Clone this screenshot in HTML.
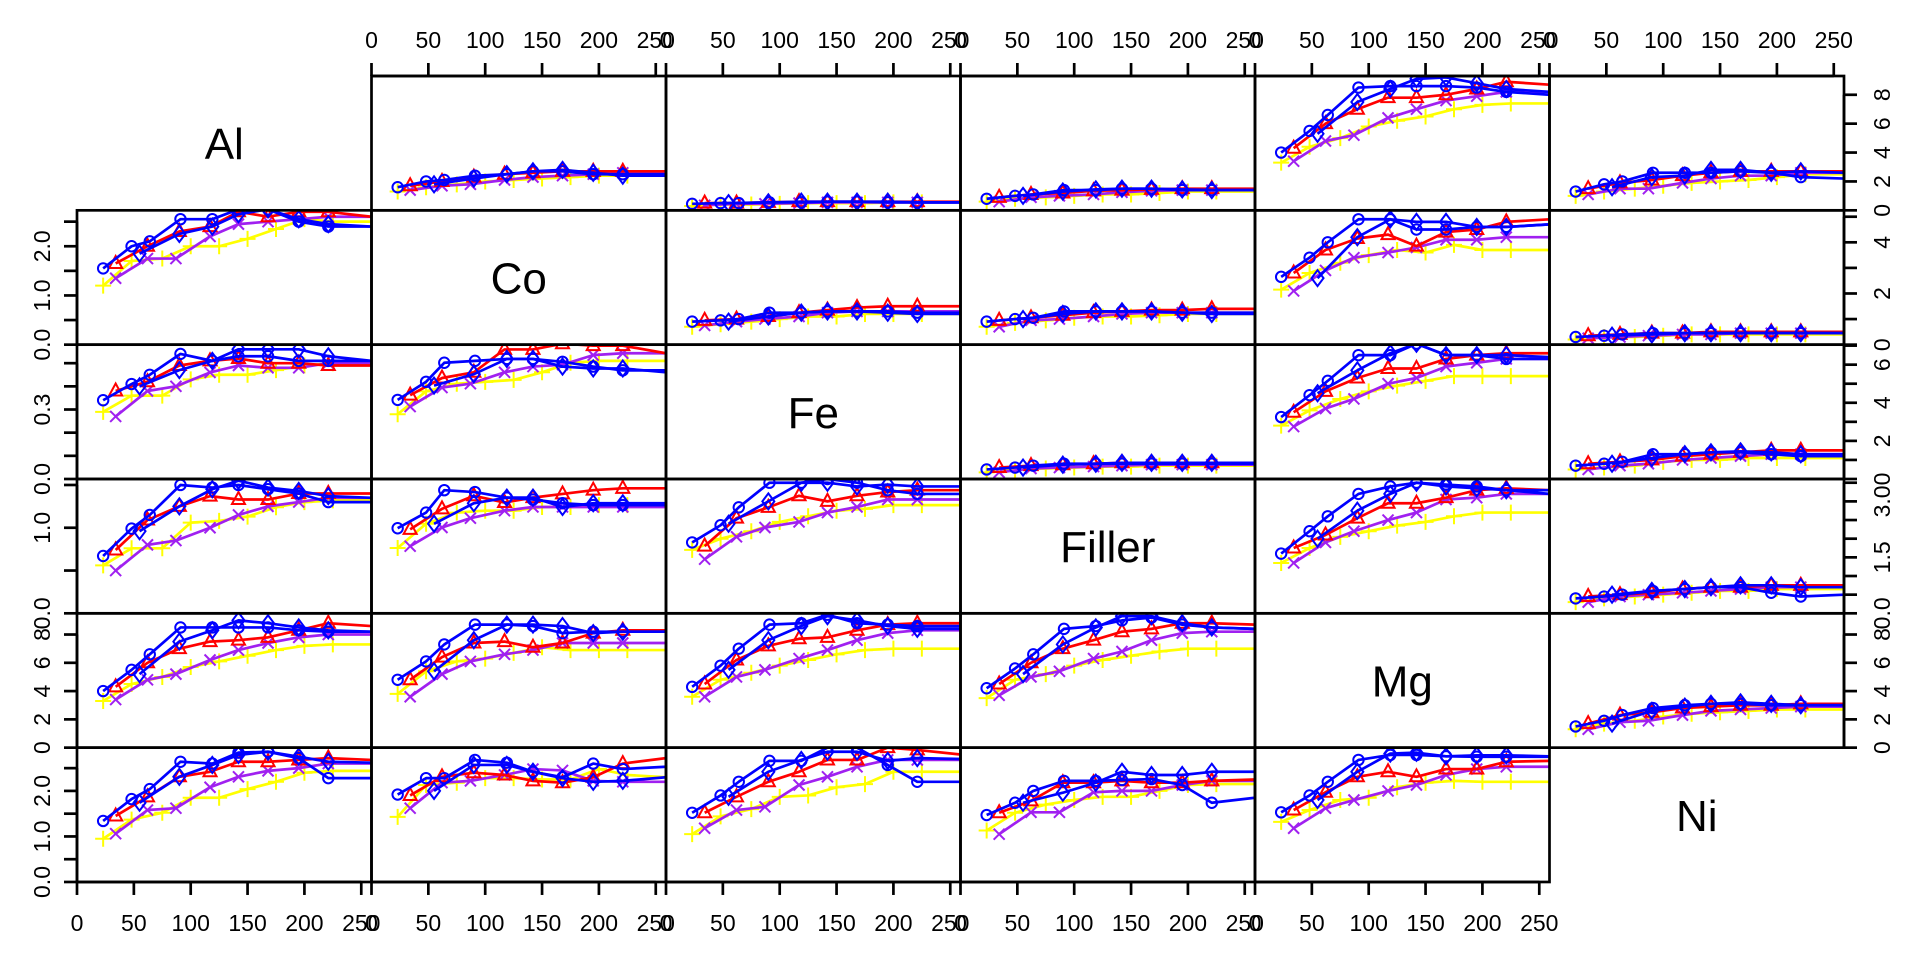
<!DOCTYPE html>
<html><head><meta charset="utf-8"><title>Pairs panel chart</title>
<style>
html,body{margin:0;padding:0;background:#fff;}
svg{display:block;font-family:"Liberation Sans",Arial,sans-serif;}
</style></head>
<body>
<svg id="chart" width="1920" height="960" viewBox="0 0 1920 960" xmlns="http://www.w3.org/2000/svg"></svg>
<script>
// ---- data ----
const varNames = ["Al","Co","Fe","Filler","Mg","Ni"];
const xTicks = [0,50,100,150,200,250];
const xTickLabels = ["0","50","100","150","200","250"];
const xCircle  = [23,48,64,91,119,142,168,195,221,259];
const xTri     = [34,62,90,117,142,168,195,221,259];
const xPlus    = [23,48,75,100,125,150,175,200,225,259];
const xCross   = [34,62,87,117,142,168,195,221,259];
const xDiamond = [55,90,119,142,168,195,221,259];
// per-row y-limits: [col1 scale, other cols scale]
const rowYmaxLeft  = [9.3, 2.73, 0.58, 1.57, 9.5, 2.95];
const rowYmaxOther = [9.3, 5.25, 7.05, 3.6, 9.5, 2.95];
// axis ticks
const leftTicks = {1:[0,0.5,1,1.5,2,2.5],2:[0,0.1,0.2,0.3,0.4,0.5],3:[0,0.5,1,1.5],4:[0,2,4,6,8],5:[0,0.5,1,1.5,2,2.5]};
const leftLabels = {1:[[0,"0.0"],[1,"1.0"],[2,"2.0"]],2:[[0,"0.0"],[0.3,"0.3"]],3:[[0,"0.0"],[1,"1.0"]],4:[[0,"0"],[2,"2"],[4,"4"],[6,"6"],[8,"8"]],5:[[0,"0.0"],[1,"1.0"],[2,"2.0"]]};
const rightTicks = {0:[0,2,4,6,8],1:[0,1,2,3,4,5],2:[0,1,2,3,4,5,6,7],3:[0,0.5,1,1.5,2,2.5,3,3.5],4:[0,2,4,6,8]};
const rightLabels = {0:[[0,"0"],[2,"2"],[4,"4"],[6,"6"],[8,"8"]],1:[[0,"0"],[2,"2"],[4,"4"]],2:[[0,"0"],[2,"2"],[4,"4"],[6,"6"]],3:[[0,"0.0"],[1.5,"1.5"],[3,"3.0"]],4:[[0,"0"],[2,"2"],[4,"4"],[6,"6"],[8,"8"]]};

// series values per panel "row,col" (1-based); last value = level at right edge
const circleVals = {
"1,2":[1.6,2.0,2.1,2.4,2.5,2.7,2.7,2.5,2.5,2.5],
"1,3":[0.45,0.5,0.5,0.55,0.55,0.6,0.6,0.55,0.55,0.55],
"1,4":[0.8,1.0,1.1,1.4,1.4,1.5,1.5,1.4,1.4,1.4],
"1,5":[4.0,5.5,6.6,8.5,8.6,8.6,8.6,8.5,8.2,8.0],
"1,6":[1.3,1.8,2.0,2.6,2.6,2.6,2.7,2.6,2.3,2.2],
"2,1":[1.55,2.0,2.1,2.55,2.55,2.75,2.75,2.5,2.4,2.4],
"2,3":[0.9,0.95,1.0,1.25,1.25,1.3,1.3,1.3,1.25,1.25],
"2,4":[0.9,1.0,1.05,1.3,1.3,1.3,1.3,1.25,1.25,1.25],
"2,5":[2.65,3.4,4.0,4.9,4.9,4.5,4.5,4.6,4.6,4.7],
"2,6":[0.3,0.35,0.4,0.45,0.45,0.45,0.45,0.45,0.45,0.45],
"3,1":[0.34,0.41,0.45,0.54,0.51,0.53,0.53,0.51,0.51,0.51],
"3,2":[4.15,5.1,6.1,6.2,6.3,6.3,6.15,5.9,5.7,5.7],
"3,4":[0.5,0.6,0.7,0.8,0.8,0.8,0.8,0.8,0.8,0.8],
"3,5":[3.25,4.4,5.15,6.5,6.5,7.1,6.5,6.5,6.3,6.3],
"3,6":[0.7,0.8,0.9,1.3,1.3,1.4,1.4,1.3,1.2,1.2],
"4,1":[0.67,0.99,1.15,1.5,1.47,1.5,1.45,1.4,1.3,1.3],
"4,2":[2.28,2.7,3.3,3.25,3.1,3.05,2.95,2.9,2.9,2.9],
"4,3":[1.9,2.36,2.84,3.5,3.5,3.6,3.5,3.3,3.2,3.2],
"4,5":[1.6,2.2,2.6,3.2,3.4,3.5,3.45,3.4,3.3,3.2],
"4,6":[0.4,0.45,0.5,0.6,0.65,0.7,0.7,0.55,0.45,0.5],
"5,1":[4.0,5.5,6.6,8.5,8.5,8.5,8.5,8.3,8.2,8.2],
"5,2":[4.8,6.1,7.3,8.7,8.7,8.6,8.1,8.2,8.2,8.2],
"5,3":[4.3,5.8,7.0,8.7,8.8,9.4,8.8,8.7,8.6,8.6],
"5,4":[4.2,5.6,6.6,8.4,8.6,9.0,9.2,8.7,8.5,8.4],
"5,6":[1.5,1.9,2.3,2.8,3.0,3.1,3.1,3.0,3.0,3.0],
"6,1":[1.34,1.82,2.04,2.64,2.6,2.84,2.86,2.72,2.28,2.28],
"6,2":[1.92,2.28,2.28,2.68,2.62,2.42,2.3,2.6,2.48,2.53],
"6,3":[1.52,1.9,2.2,2.66,2.66,2.95,2.95,2.57,2.2,2.2],
"6,4":[1.47,1.74,2.0,2.22,2.22,2.24,2.26,2.13,1.74,1.85],
"6,5":[1.53,1.9,2.2,2.68,2.79,2.79,2.76,2.75,2.75,2.75]
};
const triVals = {
"1,2":[1.7,2.0,2.3,2.5,2.6,2.7,2.7,2.7,2.7],
"1,3":[0.5,0.5,0.55,0.6,0.6,0.6,0.6,0.6,0.6],
"1,4":[0.9,1.1,1.2,1.35,1.4,1.45,1.5,1.5,1.5],
"1,5":[4.3,6.0,7.0,7.8,7.8,8.0,8.4,8.9,8.7],
"1,6":[1.5,1.9,2.1,2.4,2.6,2.7,2.7,2.7,2.7],
"2,1":[1.65,2.0,2.3,2.4,2.7,2.6,2.7,2.7,2.6],
"2,3":[0.95,1.0,1.1,1.25,1.35,1.45,1.5,1.5,1.5],
"2,4":[0.95,1.05,1.15,1.25,1.3,1.35,1.35,1.4,1.4],
"2,5":[2.8,3.7,4.15,4.3,3.85,4.4,4.5,4.8,4.9],
"2,6":[0.35,0.4,0.45,0.45,0.5,0.5,0.5,0.5,0.5],
"3,1":[0.38,0.42,0.49,0.51,0.52,0.5,0.5,0.49,0.49],
"3,2":[4.4,5.3,5.6,6.8,6.8,7.1,7.0,7.0,6.6],
"3,4":[0.6,0.7,0.75,0.8,0.85,0.85,0.85,0.85,0.85],
"3,5":[3.5,4.6,5.3,5.8,5.8,6.3,6.5,6.6,6.6],
"3,6":[0.8,0.9,1.0,1.2,1.3,1.4,1.5,1.5,1.5],
"4,1":[0.74,1.09,1.25,1.37,1.33,1.33,1.4,1.4,1.4],
"4,2":[2.25,2.8,3.15,2.97,3.1,3.2,3.3,3.35,3.35],
"4,3":[1.8,2.55,2.84,3.15,3.0,3.15,3.25,3.3,3.3],
"4,5":[1.75,2.1,2.55,2.95,2.95,3.1,3.3,3.35,3.3],
"4,6":[0.45,0.5,0.55,0.65,0.7,0.7,0.75,0.75,0.75],
"5,1":[4.3,6.0,7.0,7.5,7.6,7.8,8.3,8.8,8.6],
"5,2":[4.8,6.4,7.4,7.5,7.1,7.4,8.1,8.3,8.3],
"5,3":[4.5,6.2,7.2,7.7,7.8,8.3,8.7,8.8,8.8],
"5,4":[4.5,6.0,7.0,7.6,8.2,8.4,8.8,8.8,8.7],
"5,6":[1.7,2.3,2.5,2.8,2.9,3.0,3.0,3.1,3.1],
"6,1":[1.45,1.87,2.31,2.42,2.64,2.64,2.68,2.72,2.68],
"6,2":[1.9,2.31,2.4,2.35,2.22,2.18,2.3,2.6,2.72],
"6,3":[1.52,1.87,2.2,2.42,2.68,2.68,2.95,2.9,2.8],
"6,4":[1.52,1.78,2.18,2.18,2.22,2.18,2.18,2.22,2.25],
"6,5":[1.58,1.97,2.31,2.42,2.31,2.48,2.48,2.64,2.66]
};
const plusVals = {
"1,2":[1.3,1.6,1.8,2.0,2.1,2.2,2.3,2.4,2.4,2.4],
"1,3":[0.3,0.4,0.4,0.45,0.5,0.5,0.5,0.55,0.55,0.55],
"1,4":[0.6,0.8,0.9,1.0,1.1,1.1,1.2,1.3,1.3,1.3],
"1,5":[3.3,4.4,5.0,5.8,6.2,6.5,7.0,7.3,7.4,7.4],
"1,6":[1.0,1.3,1.5,1.7,1.9,2.0,2.1,2.3,2.5,2.5],
"2,1":[1.2,1.7,1.75,2.0,2.0,2.15,2.35,2.55,2.5,2.5],
"2,3":[0.7,0.8,0.9,1.0,1.1,1.1,1.2,1.2,1.2,1.2],
"2,4":[0.7,0.85,0.95,1.05,1.1,1.1,1.15,1.2,1.2,1.2],
"2,5":[2.15,2.8,3.2,3.5,3.7,3.6,3.9,3.7,3.7,3.7],
"2,6":[0.2,0.3,0.3,0.35,0.4,0.4,0.4,0.4,0.4,0.4],
"3,1":[0.29,0.36,0.36,0.43,0.45,0.45,0.47,0.49,0.5,0.5],
"3,2":[3.4,4.6,5.0,5.1,5.2,5.6,6.1,6.2,6.2,6.2],
"3,4":[0.35,0.5,0.55,0.6,0.65,0.65,0.7,0.7,0.7,0.7],
"3,5":[2.8,3.6,4.2,4.6,4.9,5.15,5.4,5.4,5.4,5.4],
"3,6":[0.5,0.6,0.7,0.9,1.0,1.0,1.1,1.1,1.1,1.1],
"4,1":[0.56,0.76,0.76,1.06,1.08,1.13,1.24,1.3,1.32,1.32],
"4,2":[1.75,2.4,2.7,2.75,2.75,2.85,2.85,2.9,2.9,2.9],
"4,3":[1.7,2.0,2.2,2.45,2.6,2.75,2.8,2.9,2.9,2.9],
"4,5":[1.35,1.75,2.05,2.2,2.35,2.45,2.6,2.7,2.7,2.7],
"4,6":[0.3,0.4,0.45,0.5,0.55,0.6,0.6,0.65,0.65,0.65],
"5,1":[3.3,4.5,5.0,5.7,6.1,6.5,6.9,7.2,7.3,7.3],
"5,2":[3.8,5.4,6.1,6.3,6.7,7.1,6.9,6.9,6.9,6.9],
"5,3":[3.6,4.8,5.3,5.8,6.2,6.6,6.9,7.0,7.0,7.0],
"5,4":[3.5,4.8,5.2,5.8,6.2,6.5,6.8,7.0,7.0,7.0],
"5,6":[1.3,1.7,1.9,2.2,2.4,2.5,2.6,2.7,2.7,2.7],
"6,1":[0.95,1.37,1.52,1.85,1.85,2.04,2.2,2.4,2.44,2.44],
"6,2":[1.43,2.13,2.18,2.28,2.28,2.25,2.25,2.48,2.35,2.3],
"6,3":[1.05,1.44,1.6,1.87,1.9,2.08,2.15,2.42,2.42,2.42],
"6,4":[1.13,1.52,1.7,1.8,1.87,1.87,2.0,2.13,2.15,2.15],
"6,5":[1.32,1.58,1.8,1.85,2.08,2.18,2.22,2.2,2.2,2.2]
};
const crossVals = {
"1,2":[1.4,1.7,1.8,2.1,2.3,2.4,2.5,2.6,2.6],
"1,3":[0.35,0.45,0.45,0.5,0.55,0.55,0.55,0.55,0.55],
"1,4":[0.6,0.9,1.0,1.1,1.25,1.35,1.4,1.4,1.4],
"1,5":[3.4,4.8,5.2,6.4,7.0,7.6,7.9,8.2,8.2],
"1,6":[1.1,1.5,1.5,1.9,2.2,2.4,2.4,2.6,2.6],
"2,1":[1.35,1.75,1.75,2.2,2.45,2.5,2.55,2.6,2.6],
"2,3":[0.75,0.9,1.0,1.1,1.25,1.3,1.3,1.3,1.3],
"2,4":[0.7,0.95,1.0,1.1,1.2,1.25,1.25,1.25,1.25],
"2,5":[2.1,2.9,3.4,3.6,3.8,4.1,4.1,4.2,4.2],
"2,6":[0.25,0.3,0.35,0.4,0.4,0.45,0.45,0.45,0.45],
"3,1":[0.27,0.38,0.4,0.46,0.49,0.48,0.48,0.5,0.5],
"3,2":[3.8,4.8,5.0,5.6,5.9,6.0,6.5,6.6,6.6],
"3,4":[0.35,0.55,0.6,0.65,0.7,0.75,0.75,0.75,0.75],
"3,5":[2.75,3.7,4.2,5.0,5.3,5.9,6.1,6.3,6.3],
"3,6":[0.5,0.7,0.8,1.0,1.1,1.2,1.3,1.3,1.3],
"4,1":[0.5,0.8,0.85,1.0,1.15,1.25,1.3,1.35,1.35],
"4,2":[1.8,2.3,2.55,2.75,2.85,2.85,2.85,2.85,2.85],
"4,3":[1.45,2.05,2.3,2.45,2.7,2.85,3.05,3.05,3.05],
"4,5":[1.35,1.9,2.2,2.5,2.7,3.05,3.1,3.2,3.2],
"4,6":[0.3,0.45,0.5,0.55,0.6,0.65,0.7,0.7,0.7],
"5,1":[3.4,4.8,5.2,6.2,6.9,7.4,7.8,8.0,8.0],
"5,2":[3.6,5.2,6.1,6.6,6.9,7.4,7.4,7.4,7.4],
"5,3":[3.6,5.0,5.5,6.3,6.9,7.6,8.1,8.3,8.3],
"5,4":[3.7,5.0,5.4,6.3,6.8,7.6,8.1,8.2,8.2],
"5,6":[1.3,1.8,1.9,2.3,2.6,2.7,2.8,2.9,2.9],
"6,1":[1.06,1.58,1.62,2.08,2.31,2.44,2.5,2.6,2.6],
"6,2":[1.62,2.18,2.22,2.35,2.48,2.45,2.22,2.2,2.2],
"6,3":[1.18,1.58,1.65,2.13,2.31,2.53,2.68,2.68,2.68],
"6,4":[1.05,1.53,1.53,1.97,2.0,2.0,2.13,2.22,2.22],
"6,5":[1.18,1.62,1.8,2.0,2.13,2.35,2.48,2.53,2.53]
};
const diamondVals = {
"1,2":[1.8,2.2,2.5,2.7,2.8,2.6,2.4,2.4],
"1,3":[0.5,0.55,0.6,0.6,0.6,0.6,0.55,0.55],
"1,4":[1.0,1.3,1.45,1.5,1.5,1.45,1.4,1.4],
"1,5":[5.3,7.5,8.4,9.1,9.2,8.8,8.4,8.2],
"1,6":[1.6,2.3,2.4,2.8,2.8,2.6,2.7,2.6],
"2,1":[1.85,2.25,2.4,2.65,2.75,2.55,2.45,2.4],
"2,3":[0.9,1.1,1.25,1.3,1.3,1.25,1.2,1.2],
"2,4":[1.0,1.2,1.3,1.3,1.3,1.25,1.2,1.2],
"2,5":[2.6,4.2,4.9,4.8,4.8,4.6,4.6,4.7],
"2,6":[0.35,0.4,0.45,0.45,0.45,0.45,0.45,0.45],
"3,1":[0.4,0.47,0.51,0.56,0.56,0.56,0.53,0.51],
"3,2":[4.9,5.5,6.3,6.3,5.9,5.8,5.8,5.6],
"3,4":[0.6,0.75,0.8,0.85,0.85,0.85,0.85,0.85],
"3,5":[4.5,5.7,6.6,7.1,6.5,6.5,6.5,6.4],
"3,6":[0.8,1.1,1.3,1.4,1.45,1.4,1.3,1.3],
"4,1":[0.96,1.25,1.45,1.55,1.47,1.43,1.37,1.35],
"4,2":[2.4,2.95,3.1,3.1,2.85,2.95,2.95,2.95],
"4,3":[2.4,3.0,3.5,3.5,3.4,3.45,3.4,3.4],
"4,5":[2.0,2.75,3.2,3.5,3.4,3.35,3.3,3.3],
"4,6":[0.5,0.6,0.65,0.7,0.75,0.75,0.7,0.7],
"5,1":[5.2,7.5,8.3,9.0,8.8,8.5,8.3,8.2],
"5,2":[5.4,7.6,8.7,8.7,8.6,8.1,8.2,8.2],
"5,3":[5.5,7.6,8.6,9.3,9.0,8.6,8.4,8.4],
"5,4":[5.2,7.3,8.5,9.3,9.3,8.8,8.5,8.4],
"5,6":[1.7,2.6,2.9,3.1,3.2,3.1,3.0,3.0],
"6,1":[1.74,2.31,2.57,2.79,2.86,2.75,2.64,2.62],
"6,2":[2.0,2.57,2.57,2.42,2.28,2.2,2.22,2.3],
"6,3":[1.87,2.42,2.68,2.86,2.86,2.66,2.72,2.7],
"6,4":[1.74,1.96,2.18,2.42,2.35,2.35,2.42,2.42],
"6,5":[1.8,2.42,2.82,2.84,2.76,2.78,2.78,2.76]
};

// ---- layout ----
const svg = document.getElementById('chart');
const NS = 'http://www.w3.org/2000/svg';
const L0 = 77, T0 = 76, PW = 294.5, PH = 134.33, XMAX = 259;
function mk(tag, attrs, parent){const e=document.createElementNS(NS,tag);for(const k in attrs)e.setAttribute(k,attrs[k]);(parent||svg).appendChild(e);return e;}
function xs(c,v){return L0 + c*PW + v/XMAX*PW;}
function ys(r,ymax,v){return T0 + (r+1)*PH - v/ymax*PH;}
function ymaxOf(r,c){return c===0 ? rowYmaxLeft[r] : rowYmaxOther[r];}

const COL = {circle:'#0000FF', tri:'#FF0000', plus:'#FFFF00', cross:'#A020F0', diamond:'#0000FF'};
const series = [
  ['plus', xPlus, plusVals],
  ['cross', xCross, crossVals],
  ['tri', xTri, triVals],
  ['diamond', xDiamond, diamondVals],
  ['circle', xCircle, circleVals]
];

function marker(g, type, x, y, col){
  let m;
  const sw = 2;
  if(type==='circle'){ m = mk('circle',{cx:x,cy:y,r:5.2,fill:'none',stroke:col,'stroke-width':sw},g); }
  else if(type==='tri'){ m = mk('polygon',{points:`${x},${y-7.5} ${x-6.5},${y+4.5} ${x+6.5},${y+4.5}`,fill:'none',stroke:col,'stroke-width':sw},g); }
  else if(type==='plus'){ m = mk('path',{d:`M${x-8},${y}H${x+8}M${x},${y-8}V${y+8}`,stroke:col,'stroke-width':sw,fill:'none'},g); }
  else if(type==='cross'){ m = mk('path',{d:`M${x-5.5},${y-5.5}L${x+5.5},${y+5.5}M${x-5.5},${y+5.5}L${x+5.5},${y-5.5}`,stroke:col,'stroke-width':sw,fill:'none'},g); }
  else { m = mk('polygon',{points:`${x},${y-8} ${x+6},${y} ${x},${y+8} ${x-6},${y}`,fill:'none',stroke:col,'stroke-width':sw},g); }
  
  
}

// panels
for(let r=0;r<6;r++){
  for(let c=0;c<6;c++){
    const g = mk('g',{});
    
    
    const px = L0 + c*PW, py = T0 + r*PH;
    const clipId = 'clip'+r+'_'+c;
    const cp = mk('clipPath',{id:clipId},g);
    mk('rect',{x:px,y:py,width:PW,height:PH},cp);
    if(r===c){
      const t = mk('text',{x:px+PW/2,y:py+PH/2+16,'text-anchor':'middle','font-size':44,fill:'#000'},g);
      t.textContent = varNames[r];
      
      
    } else {
      const key = (r+1)+','+(c+1);
      const ym = ymaxOf(r,c);
      const dg = mk('g',{'clip-path':'url(#'+clipId+')'},g);
      for(const [type, X, V] of series){
        const vals = V[key]; if(!vals) continue;
        const pts = vals.map((v,i)=>[xs(c,X[i]), ys(r,ym,v)]);
        const pl = mk('polyline',{points:pts.map(p=>p.join(',')).join(' '),fill:'none',stroke:COL[type],'stroke-width':2.7,'stroke-linejoin':'round'},dg);
        
        
        for(let i=0;i<pts.length-1;i++) marker(dg, type, pts[i][0], pts[i][1], COL[type]);
      }
    }
    if(!((r===0&&c===0)||(r===5&&c===5))){
      const fr = mk('rect',{x:px,y:py,width:PW,height:PH,fill:'none',stroke:'#000','stroke-width':2.7},g);
      
      
    }
  }
}

// x axes
function xAxis(c, top){
  const g = mk('g',{});
  
  
  const y0 = top ? T0 : T0+6*PH;
  const dir = top ? -1 : 1;
  mk('line',{x1:xs(c,xTicks[0]),x2:xs(c,xTicks[xTicks.length-1]),y1:y0,y2:y0,stroke:'#000','stroke-width':2.7},g);
  xTicks.forEach((v,i)=>{
    const x = xs(c,v);
    mk('line',{x1:x,x2:x,y1:y0,y2:y0+dir*13,stroke:'#000','stroke-width':2.7},g);
    const t = mk('text',{x:x,y:top?48:931,'text-anchor':'middle','font-size':23,fill:'#000'},g);
    t.textContent = xTickLabels[i];
    
    
  });
}
for(let c=1;c<6;c++) xAxis(c,true);
for(let c=0;c<5;c++) xAxis(c,false);

// y axes
function yAxis(r, left){
  const g = mk('g',{});
  
  
  const ym = left ? rowYmaxLeft[r] : rowYmaxOther[r];
  const ticks = left ? leftTicks[r] : rightTicks[r];
  const labels = left ? leftLabels[r] : rightLabels[r];
  const x0 = left ? L0 : L0+6*PW;
  const dir = left ? -1 : 1;
  mk('line',{x1:x0,x2:x0,y1:ys(r,ym,ticks[0]),y2:ys(r,ym,ticks[ticks.length-1]),stroke:'#000','stroke-width':2.7},g);
  ticks.forEach(v=>{
    const y = ys(r,ym,v);
    mk('line',{x1:x0,x2:x0+dir*13,y1:y,y2:y,stroke:'#000','stroke-width':2.7},g);
  });
  labels.forEach(([v,s])=>{
    const y = ys(r,ym,v);
    const lx = left ? 50 : 1890;
    const t = mk('text',{x:lx,y:y,'text-anchor':'middle','font-size':23,fill:'#000',transform:`rotate(-90 ${lx} ${y})`},g);
    t.textContent = s;
    
    
  });
}
for(let r=1;r<6;r++) yAxis(r,true);
for(let r=0;r<5;r++) yAxis(r,false);
</script>
</body></html>
